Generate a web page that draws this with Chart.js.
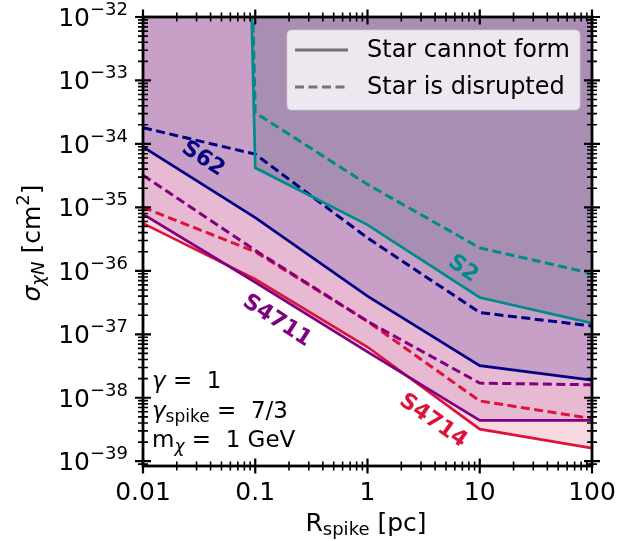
<!DOCTYPE html>
<html><head><meta charset="utf-8">
<script src="https://cdn.jsdelivr.net/npm/chart.js@4/dist/chart.umd.min.js"></script>
<style>html,body{margin:0;padding:0;background:#fff}#wrap{width:642px;height:541px}</style>
</head><body><div id="wrap"><canvas id="c" width="642" height="541"></canvas></div>
<script>
// ---- data ----
const R_SPIKE = [0.01, 0.1, 1, 10, 100];                       // pc
// S2 constraint diverges below R_spike = 0.1 pc (vertical edge)
const S2_FORM       = [1e40, 4.2e-35, 5.3e-36, 3.8e-37, 1.5e-37];
const S2_DISRUPT    = [1e40, 3.1e-34, 2.3e-35, 2.3e-36, 9.1e-37];
const S62_FORM      = [9.0e-35, 6.9e-36, 4.0e-37, 3.2e-38, 1.9e-38];
const S62_DISRUPT   = [1.8e-34, 6.9e-35, 3.3e-36, 2.2e-37, 1.35e-37];
const S4711_FORM    = [7.8e-36, 6.6e-37, 5.3e-38, 4.4e-39, 4.4e-39];
const S4711_DISRUPT = [3.2e-35, 2.1e-36, 1.6e-37, 1.7e-38, 1.6e-38];
const S4714_FORM    = [5.6e-36, 7.4e-37, 6.3e-38, 3.2e-39, 1.6e-39];
const S4714_DISRUPT = [1.0e-35, 2.0e-36, 1.6e-37, 8.9e-39, 4.7e-39];
const X_TICKS = [0.01, 0.1, 1, 10, 100];
const X_TICK_LABELS = ['0.01', '0.1', '1', '10', '100'];
const Y_TICK_EXPONENTS = [-32, -33, -34, -35, -36, -37, -38, -39];
const STAR_NAMES = ['S2', 'S62', 'S4711', 'S4714'];
const LEGEND_LABELS = ['Star cannot form', 'Star is disrupted'];
const PARAM_TEXT = ['1', '7/3', '1 GeV'];

const COL = {S2:'rgb(0,139,139)', S62:'rgb(0,0,128)', S4711:'rgb(128,0,128)', S4714:'rgb(220,20,60)'};
const FILL = {S2:'rgba(56,84,102,0.22)', S62:'rgba(0,0,128,0.14)', S4711:'rgba(128,0,128,0.15)', S4714:'rgba(220,20,60,0.16)'};
const FONT = '"DejaVu Sans"';

function pts(ys){ return R_SPIKE.map((x,i)=>({x:x, y:ys[i]})); }
function solid(name, ys){
  return {label:name+' form', data:pts(ys), borderColor:COL[name], backgroundColor:FILL[name],
    borderWidth:2.7, fill:'end', pointRadius:0, tension:0};
}
function dashed(name, ys){
  return {label:name+' disrupt', data:pts(ys), borderColor:COL[name], borderWidth:3,
    borderDash:[9,4.5], fill:false, pointRadius:0, tension:0};
}

function drawParts(ctx, parts, x, y, align){
  let widths = parts.map(p=>{ ctx.font = (p.style||'normal')+' '+p.size+'px '+FONT; return ctx.measureText(p.t).width; });
  let total = widths.reduce((a,b)=>a+b,0);
  let cx = align==='center' ? x-total/2 : (align==='right' ? x-total : x);
  ctx.textAlign = 'left'; ctx.textBaseline = 'alphabetic';
  parts.forEach((p,i)=>{ ctx.font=(p.style||'normal')+' '+p.size+'px '+FONT; ctx.fillText(p.t, cx, y+(p.dy||0)); cx += widths[i]; });
}

const decor = {
  id:'decor',
  afterDraw(chart){
    const ctx = chart.ctx, a = chart.chartArea, xs = chart.scales.x, ys = chart.scales.y;
    ctx.save();
    ctx.fillStyle = '#000'; ctx.strokeStyle = '#000';
    // spines
    ctx.lineWidth = 2.8;
    ctx.strokeRect(a.left, a.top, a.right-a.left, a.bottom-a.top);
    // x ticks
    for (let e=-2; e<=2; e++){
      for (let k=1; k<=9; k++){
        const v = k*Math.pow(10,e);
        if (v < xs.min*0.999 || v > xs.max*1.001) continue;
        const px = xs.getPixelForValue(v);
        const L = k===1 ? 7.5 : 4.5;
        ctx.lineWidth = k===1 ? 2.2 : 1.6;
        ctx.beginPath();
        ctx.moveTo(px, a.bottom-L); ctx.lineTo(px, a.bottom+L);
        ctx.moveTo(px, a.top-L); ctx.lineTo(px, a.top+L);
        ctx.stroke();
      }
    }
    // y ticks
    for (let e=-40; e<=-32; e++){
      for (let k=1; k<=9; k++){
        const v = k*Math.pow(10,e);
        if (v < ys.min || v > ys.max*1.001) continue;
        const py = ys.getPixelForValue(v);
        const L = k===1 ? 8 : 5;
        ctx.lineWidth = k===1 ? 2.2 : 1.6;
        ctx.beginPath();
        ctx.moveTo(a.left-L, py); ctx.lineTo(a.left+L, py);
        ctx.moveTo(a.right-L, py); ctx.lineTo(a.right+L, py);
        ctx.stroke();
      }
    }
    // x tick labels
    ctx.font = '25px '+FONT; ctx.textAlign='center'; ctx.textBaseline='alphabetic';
    X_TICKS.forEach((v,i)=>{ ctx.fillText(X_TICK_LABELS[i], xs.getPixelForValue(v), 500); });
    // y tick labels
    Y_TICK_EXPONENTS.forEach(ex=>{
      const py = ys.getPixelForValue(Math.pow(10,ex));
      drawParts(ctx, [{t:'10', size:25}, {t:'\u2212'+Math.abs(ex), size:18, dy:-11}], 128, py+9, 'right');
    });
    // x title
    drawParts(ctx, [{t:'R', size:25}, {t:'spike', size:18, dy:4}, {t:' [pc]', size:25}], 366, 531, 'center');
    // y title
    ctx.save(); ctx.translate(40, 243); ctx.rotate(-Math.PI/2);
    drawParts(ctx, [{t:'\u03c3', size:25, style:'italic'}, {t:'\u03c7N', size:18, style:'italic', dy:4}, {t:' [cm', size:25}, {t:'2', size:18, dy:-11}, {t:']', size:25}], 0, 0, 'center');
    ctx.restore();
    // parameter annotation
    drawParts(ctx, [{t:'\u03b3', size:23, style:'italic'}, {t:' = ', size:23}, {t:' '+PARAM_TEXT[0], size:23}], 152, 388, 'left');
    drawParts(ctx, [{t:'\u03b3', size:23, style:'italic'}, {t:'spike', size:17, dy:4}, {t:' = ', size:23}, {t:' '+PARAM_TEXT[1], size:23}], 152, 418, 'left');
    drawParts(ctx, [{t:'m', size:23}, {t:'\u03c7', size:17, style:'italic', dy:5}, {t:' = ', size:23}, {t:' '+PARAM_TEXT[2], size:23}], 152, 447, 'left');
    // star labels (rotated along curves)
    const lab = [
      {n:'S62', x:203, y:159, r:33},
      {n:'S2', x:463, y:269, r:36},
      {n:'S4711', x:277, y:321, r:33},
      {n:'S4714', x:433, y:421, r:35}
    ];
    lab.forEach(L=>{
      ctx.save(); ctx.translate(L.x, L.y); ctx.rotate(L.r*Math.PI/180);
      ctx.fillStyle = COL[L.n]; ctx.font = 'bold 22px '+FONT; ctx.textAlign='center'; ctx.textBaseline='middle';
      ctx.fillText(L.n, 0, 0); ctx.restore();
    });
    // legend
    const lx=287, ly=30, lw=293, lh=80, rr=5;
    ctx.beginPath();
    ctx.moveTo(lx+rr, ly); ctx.lineTo(lx+lw-rr, ly); ctx.quadraticCurveTo(lx+lw, ly, lx+lw, ly+rr);
    ctx.lineTo(lx+lw, ly+lh-rr); ctx.quadraticCurveTo(lx+lw, ly+lh, lx+lw-rr, ly+lh);
    ctx.lineTo(lx+rr, ly+lh); ctx.quadraticCurveTo(lx, ly+lh, lx, ly+lh-rr);
    ctx.lineTo(lx, ly+rr); ctx.quadraticCurveTo(lx, ly, lx+rr, ly); ctx.closePath();
    ctx.fillStyle='rgba(255,255,255,0.8)'; ctx.fill();
    ctx.strokeStyle='rgba(204,204,204,0.8)'; ctx.lineWidth=1; ctx.stroke();
    ctx.strokeStyle='#737373'; ctx.lineWidth=3;
    ctx.beginPath(); ctx.moveTo(295,50); ctx.lineTo(348,50); ctx.stroke();
    ctx.setLineDash([9,4.5]); ctx.beginPath(); ctx.moveTo(295,87); ctx.lineTo(348,87); ctx.stroke(); ctx.setLineDash([]);
    ctx.fillStyle='#000'; ctx.font='24px '+FONT; ctx.textAlign='left'; ctx.textBaseline='middle';
    ctx.fillText(LEGEND_LABELS[0], 367, 51); ctx.fillText(LEGEND_LABELS[1], 367, 88);
    ctx.restore();
  }
};

new Chart(document.getElementById('c'), {
  type:'line',
  data:{ datasets:[
    solid('S2', S2_FORM), dashed('S2', S2_DISRUPT),
    solid('S62', S62_FORM), dashed('S62', S62_DISRUPT),
    solid('S4711', S4711_FORM), dashed('S4711', S4711_DISRUPT),
    solid('S4714', S4714_FORM), dashed('S4714', S4714_DISRUPT)
  ]},
  options:{
    responsive:false, animation:false, devicePixelRatio:1,
    layout:{padding:{left:143, right:50, top:17, bottom:75}},
    scales:{
      x:{type:'logarithmic', min:0.01, max:100, display:false},
      y:{type:'logarithmic', min:8.4e-40, max:1e-32, display:false}
    },
    plugins:{legend:{display:false}, tooltip:{enabled:false}, filler:{drawTime:'beforeDatasetsDraw'}}
  },
  plugins:[decor]
});
</script></body></html>
